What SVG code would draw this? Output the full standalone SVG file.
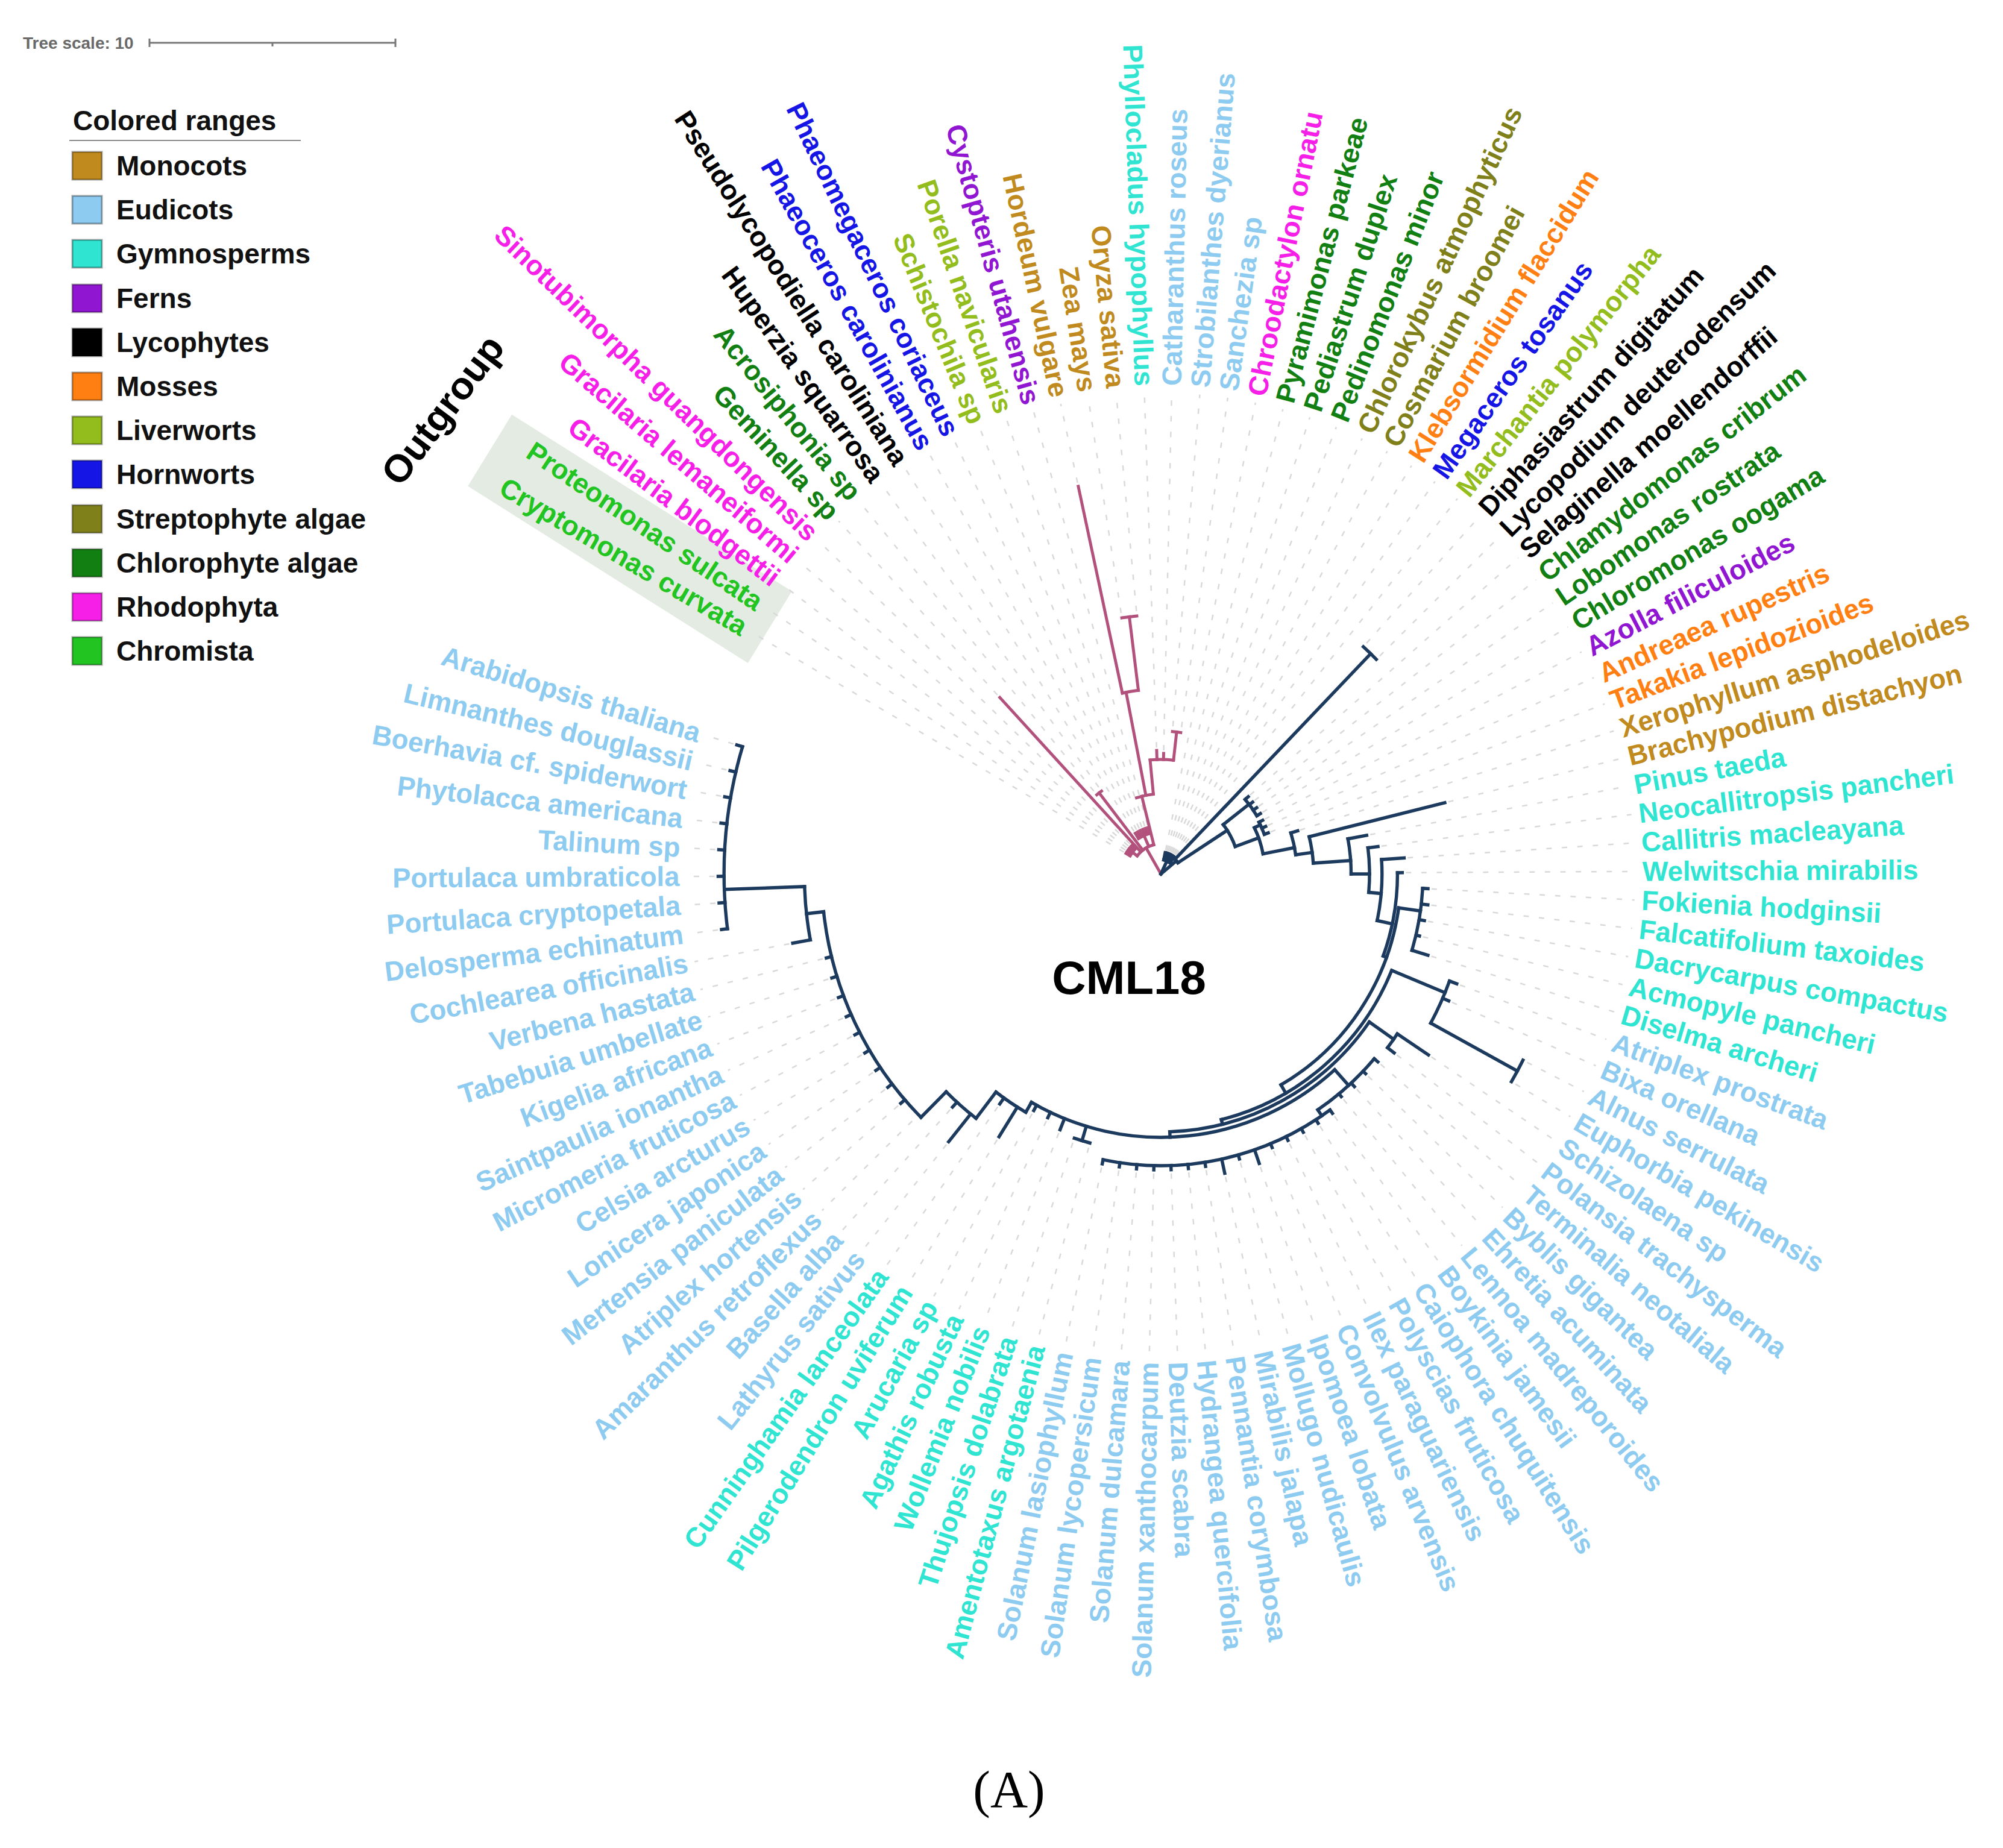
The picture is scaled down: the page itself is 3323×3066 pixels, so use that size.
<svg xmlns="http://www.w3.org/2000/svg" width="3323" height="3066" viewBox="0 0 3323 3066">
<style>
.mo{fill:#c08a1e}.eu{fill:#8ecbf0}.gy{fill:#2fe5d2}.fe{fill:#9116d2}.ly{fill:#000}.ms{fill:#ff7f12}.lv{fill:#93bd1c}.hw{fill:#1515e6}.st{fill:#80801a}.ch{fill:#127f12}.rh{fill:#f51fe8}.cr{fill:#22c422}
.l{text-anchor:end}
.lg rect{stroke:#000;stroke-opacity:.35;stroke-width:3}
.lg text{font-family:"Liberation Sans",Arial,sans-serif;font-weight:bold;font-size:46px;fill:#111}
</style>
<rect width="3323" height="3066" fill="#fff"/>
<g id="legend" class="lg">
<text x="38" y="81" style="font-size:28px;fill:#6a6a6a">Tree scale: 10</text>
<g stroke="#777" stroke-width="3" fill="none"><line x1="248" y1="71" x2="656" y2="71"/><line x1="248" y1="64" x2="248" y2="78"/><line x1="452" y1="71" x2="452" y2="77"/><line x1="656" y1="64" x2="656" y2="78"/></g>
<text x="121" y="216">Colored ranges</text>
<line x1="115" y1="233" x2="499" y2="233" stroke="#8a8a8a" stroke-width="2"/>
<rect class="mo" x="120" y="252" width="49" height="46"/><text x="193" y="291">Monocots</text>
<rect class="eu" x="120" y="325" width="49" height="46"/><text x="193" y="364">Eudicots</text>
<rect class="gy" x="120" y="398" width="49" height="46"/><text x="193" y="437">Gymnosperms</text>
<rect class="fe" x="120" y="472" width="49" height="46"/><text x="193" y="511">Ferns</text>
<rect class="ly" x="120" y="545" width="49" height="46"/><text x="193" y="584">Lycophytes</text>
<rect class="ms" x="120" y="618" width="49" height="46"/><text x="193" y="657">Mosses</text>
<rect class="lv" x="120" y="691" width="49" height="46"/><text x="193" y="730">Liverworts</text>
<rect class="hw" x="120" y="764" width="49" height="46"/><text x="193" y="803">Hornworts</text>
<rect class="st" x="120" y="838" width="49" height="46"/><text x="193" y="877">Streptophyte algae</text>
<rect class="ch" x="120" y="911" width="49" height="46"/><text x="193" y="950">Chlorophyte algae</text>
<rect class="rh" x="120" y="984" width="49" height="46"/><text x="193" y="1023">Rhodophyta</text>
<rect class="cr" x="120" y="1057" width="49" height="46"/><text x="193" y="1096">Chromista</text>
</g>
<rect id="outgroup-box" x="775" y="-70" width="555" height="140" fill="#e3ebe3" transform="translate(1926 1450) scale(.986 1) rotate(211.9)"/>
<text id="outgroup-label" transform="translate(734 680) rotate(-53)" text-anchor="middle" dy=".35em" font-family="'Liberation Sans',Arial,sans-serif" font-weight="bold" font-size="64" fill="#000">Outgroup</text>
<g id="leaders" transform="translate(1926 1450) scale(.986 1)" stroke="#d9d9d9" stroke-width="2.5" stroke-dasharray="9 17" fill="none">
<line x1="72" x2="798" transform="rotate(210.2)"/><line x1="72" x2="798" transform="rotate(213.6)"/><line x1="72" x2="798" transform="rotate(217)"/><line x1="72" x2="798" transform="rotate(220.4)"/><line x1="72" x2="798" transform="rotate(223.8)"/>
<line x1="405" x2="798" transform="rotate(227.2)"/><line x1="178" x2="798" transform="rotate(230.6)"/><line x1="178" x2="798" transform="rotate(234)"/>
<line x1="84" x2="798" transform="rotate(237.4)"/><line x1="84" x2="798" transform="rotate(240.8)"/><line x1="84" x2="798" transform="rotate(244.2)"/><line x1="84" x2="798" transform="rotate(247.6)"/><line x1="84" x2="798" transform="rotate(251)"/><line x1="84" x2="798" transform="rotate(254.4)"/>
<line x1="664" x2="798" transform="rotate(257.8)"/><line x1="438" x2="798" transform="rotate(261.2)"/><line x1="438" x2="798" transform="rotate(264.6)"/>
<line x1="210" x2="798" transform="rotate(268)"/><line x1="205" x2="798" transform="rotate(271.3)"/><line x1="246" x2="798" transform="rotate(274.7)"/><line x1="246" x2="798" transform="rotate(278.1)"/>
<line x1="40" x2="798" transform="rotate(281.5)"/><line x1="40" x2="798" transform="rotate(284.9)"/><line x1="40" x2="798" transform="rotate(288.3)"/><line x1="40" x2="798" transform="rotate(291.7)"/><line x1="40" x2="798" transform="rotate(295.1)"/><line x1="40" x2="798" transform="rotate(298.5)"/><line x1="40" x2="798" transform="rotate(301.9)"/><line x1="40" x2="798" transform="rotate(305.3)"/><line x1="40" x2="798" transform="rotate(308.7)"/>
<line x1="516" x2="798" transform="rotate(312.1)"/><line x1="516" x2="798" transform="rotate(315.5)"/>
<line x1="199" x2="798" transform="rotate(318.9)"/><line x1="199" x2="798" transform="rotate(322.3)"/><line x1="199" x2="798" transform="rotate(325.7)"/><line x1="199" x2="798" transform="rotate(329.1)"/>
<line x1="197" x2="798" transform="rotate(332.5)"/><line x1="197" x2="798" transform="rotate(335.9)"/><line x1="197" x2="798" transform="rotate(339.3)"/>
<line x1="245" x2="798" transform="rotate(342.7)"/><line x1="498" x2="798" transform="rotate(346.1)"/><line x1="358" x2="798" transform="rotate(349.5)"/><line x1="374" x2="798" transform="rotate(352.9)"/><line x1="416" x2="798" transform="rotate(356.3)"/><line x1="412" x2="798" transform="rotate(359.7)"/>
<line x1="456" x2="798" transform="rotate(3.1)"/><line x1="458" x2="798" transform="rotate(6.5)"/><line x1="456" x2="798" transform="rotate(9.9)"/><line x1="453" x2="798" transform="rotate(13.3)"/><line x1="475" x2="798" transform="rotate(16.7)"/>
<line x1="536" x2="798" transform="rotate(20.1)"/><line x1="534" x2="798" transform="rotate(23.5)"/><line x1="691" x2="798" transform="rotate(26.9)"/><line x1="691" x2="798" transform="rotate(30.3)"/>
<line x1="547" x2="798" transform="rotate(33.7)"/><line x1="498" x2="798" transform="rotate(37.1)"/>
<line x1="486" x2="798" transform="rotate(40.5)"/><line x1="484" x2="798" transform="rotate(43.9)"/><line x1="486" x2="798" transform="rotate(47.3)"/><line x1="484" x2="798" transform="rotate(50.6)"/>
<line x1="497" x2="798" transform="rotate(54)"/><line x1="497" x2="798" transform="rotate(57.4)"/><line x1="497" x2="798" transform="rotate(60.8)"/><line x1="497" x2="798" transform="rotate(64.2)"/><line x1="497" x2="798" transform="rotate(67.6)"/><line x1="514" x2="798" transform="rotate(71)"/><line x1="497" x2="798" transform="rotate(74.4)"/><line x1="514" x2="798" transform="rotate(77.8)"/><line x1="497" x2="798" transform="rotate(81.2)"/><line x1="497" x2="798" transform="rotate(84.6)"/><line x1="497" x2="798" transform="rotate(88)"/><line x1="497" x2="798" transform="rotate(91.4)"/><line x1="497" x2="798" transform="rotate(94.8)"/><line x1="497" x2="798" transform="rotate(98.2)"/><line x1="497" x2="798" transform="rotate(101.6)"/>
<line x1="470" x2="798" transform="rotate(105)"/><line x1="470" x2="798" transform="rotate(108.4)"/><line x1="463" x2="798" transform="rotate(111.8)"/><line x1="453" x2="798" transform="rotate(115.2)"/><line x1="453" x2="798" transform="rotate(118.6)"/><line x1="520" x2="798" transform="rotate(122)"/><line x1="474" x2="798" transform="rotate(125.4)"/>
<line x1="576" x2="798" transform="rotate(128.8)"/><line x1="528" x2="798" transform="rotate(132.2)"/>
<line x1="586" x2="798" transform="rotate(135.6)"/><line x1="586" x2="798" transform="rotate(139)"/><line x1="586" x2="798" transform="rotate(142.4)"/><line x1="586" x2="798" transform="rotate(145.8)"/><line x1="586" x2="798" transform="rotate(149.2)"/><line x1="586" x2="798" transform="rotate(152.6)"/><line x1="586" x2="798" transform="rotate(155.9)"/><line x1="586" x2="798" transform="rotate(159.3)"/><line x1="586" x2="798" transform="rotate(162.7)"/><line x1="586" x2="798" transform="rotate(166.1)"/>
<line x1="636" x2="798" transform="rotate(169.5)"/><line x1="751" x2="798" transform="rotate(172.9)"/>
<line x1="751" x2="798" transform="rotate(176.3)"/><line x1="751" x2="798" transform="rotate(179.7)"/><line x1="751" x2="798" transform="rotate(183.1)"/><line x1="751" x2="798" transform="rotate(186.5)"/><line x1="751" x2="798" transform="rotate(189.9)"/><line x1="751" x2="798" transform="rotate(193.3)"/><line x1="751" x2="798" transform="rotate(196.7)"/>
</g>
<g id="connectors" transform="translate(1926 1450) scale(.986 1)" fill="none" stroke-linecap="square">
<g id="clade-pink" stroke="#b3517d" stroke-width="5">
<line x2="50" transform="rotate(240)"/>
<circle r="50" pathLength="360" stroke-dasharray="39 720" transform="rotate(217)"/>
<line x1="50" x2="60" transform="rotate(217)"/>
<circle r="60" pathLength="360" stroke-dasharray="13.6 720" transform="rotate(210.2)"/>
<line x1="60" x2="68" transform="rotate(210.2)"/><line x1="60" x2="68" transform="rotate(213.6)"/><line x1="60" x2="68" transform="rotate(217)"/><line x1="60" x2="68" transform="rotate(220.4)"/><line x1="60" x2="68" transform="rotate(223.8)"/>
<line x1="50" x2="399" transform="rotate(227.2)"/>
<line x1="50" x2="170" transform="rotate(232.3)"/>
<circle r="170" pathLength="360" stroke-dasharray="3.4 720" transform="rotate(230.6)"/>
<line x1="50" x2="70" transform="rotate(245.9)"/>
<circle r="70" pathLength="360" stroke-dasharray="17 720" transform="rotate(237.4)"/>
<line x1="70" x2="80" transform="rotate(237.4)"/><line x1="70" x2="80" transform="rotate(240.8)"/><line x1="70" x2="80" transform="rotate(244.2)"/><line x1="70" x2="80" transform="rotate(247.6)"/><line x1="70" x2="80" transform="rotate(251)"/><line x1="70" x2="80" transform="rotate(254.4)"/>
<line x1="50" x2="133" transform="rotate(256)"/>
<circle r="133" pathLength="360" stroke-dasharray="12.5 720" transform="rotate(252)"/>
<line x1="133" x2="307" transform="rotate(259)"/>
<circle r="307" pathLength="360" stroke-dasharray="5.1 720" transform="rotate(257.8)"/>
<line x1="307" x2="658" transform="rotate(257.8)"/>
<line x1="307" x2="430" transform="rotate(262.9)"/>
<circle r="430" pathLength="360" stroke-dasharray="3.4 720" transform="rotate(261.2)"/>
<line x1="133" x2="190" transform="rotate(264.5)"/>
<circle r="190" pathLength="360" stroke-dasharray="11.9 720" transform="rotate(264.5)"/>
<line x1="190" x2="205" transform="rotate(268)"/>
<line x1="190" x2="200" transform="rotate(271.3)"/>
<line x1="190" x2="237" transform="rotate(276.4)"/>
<circle r="237" pathLength="360" stroke-dasharray="3.4 720" transform="rotate(274.7)"/>
</g>
<g id="clade-navy" stroke="#1c3a5e" stroke-width="5.5">
<line x2="24" transform="rotate(295)"/>
<circle r="24" pathLength="360" stroke-dasharray="27.2 720" transform="rotate(281.5)"/>
<line x1="24" x2="36" transform="rotate(281.5)"/><line x1="24" x2="36" transform="rotate(284.9)"/><line x1="24" x2="36" transform="rotate(288.3)"/><line x1="24" x2="36" transform="rotate(291.7)"/><line x1="24" x2="36" transform="rotate(295.1)"/><line x1="24" x2="36" transform="rotate(298.5)"/><line x1="24" x2="36" transform="rotate(301.9)"/><line x1="24" x2="36" transform="rotate(305.3)"/><line x1="24" x2="36" transform="rotate(308.7)"/>
<line x2="34" transform="rotate(320)"/>
<circle r="34" pathLength="360" stroke-dasharray="13 720" transform="rotate(314)"/>
<line x1="34" x2="508" transform="rotate(314)"/>
<circle r="508" pathLength="360" stroke-dasharray="3.4 720" transform="rotate(312.1)"/>
<line x1="34" x2="133" transform="rotate(327)"/>
<circle r="133" pathLength="360" stroke-dasharray="18 720" transform="rotate(322)"/>
<line x1="133" x2="188" transform="rotate(322)"/>
<circle r="188" pathLength="360" stroke-dasharray="10.2 720" transform="rotate(318.9)"/>
<line x1="188" x2="195" transform="rotate(318.9)"/><line x1="188" x2="195" transform="rotate(322.3)"/><line x1="188" x2="195" transform="rotate(325.7)"/><line x1="188" x2="195" transform="rotate(329.1)"/>
<line x1="133" x2="175" transform="rotate(340)"/>
<circle r="175" pathLength="360" stroke-dasharray="15 720" transform="rotate(334)"/>
<line x1="175" x2="186" transform="rotate(334)"/>
<circle r="186" pathLength="360" stroke-dasharray="6.8 720" transform="rotate(332.5)"/>
<line x1="186" x2="193" transform="rotate(332.5)"/><line x1="186" x2="193" transform="rotate(335.9)"/><line x1="186" x2="193" transform="rotate(339.3)"/>
<line x1="175" x2="229" transform="rotate(349)"/>
<circle r="229" pathLength="360" stroke-dasharray="9.3 720" transform="rotate(342.7)"/>
<line x1="229" x2="241" transform="rotate(342.7)"/>
<line x1="229" x2="257" transform="rotate(352)"/>
<circle r="257" pathLength="360" stroke-dasharray="9.9 720" transform="rotate(346.1)"/>
<line x1="257" x2="492" transform="rotate(346.1)"/>
<line x1="257" x2="320" transform="rotate(356)"/>
<circle r="320" pathLength="360" stroke-dasharray="10.5 720" transform="rotate(349.5)"/>
<line x1="320" x2="352" transform="rotate(349.5)"/>
<line x1="320" x2="351" transform="rotate(360)"/>
<circle r="351" pathLength="360" stroke-dasharray="12.1 720" transform="rotate(352.9)"/>
<line x1="351" x2="368" transform="rotate(352.9)"/>
<line x1="351" x2="372" transform="rotate(5)"/>
<circle r="372" pathLength="360" stroke-dasharray="15.7 720" transform="rotate(356.3)"/>
<line x1="372" x2="410" transform="rotate(356.3)"/>
<line x1="372" x2="398" transform="rotate(12)"/>
<circle r="398" pathLength="360" stroke-dasharray="20.3 720" transform="rotate(359.7)"/>
<line x1="398" x2="406" transform="rotate(359.7)"/>
<line x1="398" x2="404" transform="rotate(20)"/>
<circle r="404" pathLength="360" stroke-dasharray="52 720" transform="rotate(8)"/>
<line x1="404" x2="441" transform="rotate(8)"/>
<circle r="441" pathLength="360" stroke-dasharray="13.6 720" transform="rotate(3.1)"/>
<line x1="441" x2="450" transform="rotate(3.1)"/><line x1="441" x2="452" transform="rotate(6.5)"/><line x1="441" x2="450" transform="rotate(9.9)"/><line x1="441" x2="447" transform="rotate(13.3)"/><line x1="441" x2="469" transform="rotate(16.7)"/>
<line x1="404" x2="420" transform="rotate(60)"/>
<circle r="420" pathLength="360" stroke-dasharray="53.6 720" transform="rotate(22.4)"/>
<line x1="420" x2="517" transform="rotate(22.4)"/>
<circle r="517" pathLength="360" stroke-dasharray="8.5 720" transform="rotate(20.1)"/>
<line x1="517" x2="530" transform="rotate(20.1)"/>
<line x1="517" x2="528" transform="rotate(23.5)"/>
<line x1="517" x2="683" transform="rotate(28.6)"/>
<circle r="683" pathLength="360" stroke-dasharray="3.4 720" transform="rotate(26.9)"/>
<line x1="420" x2="428" transform="rotate(76)"/>
<circle r="428" pathLength="360" stroke-dasharray="53 720" transform="rotate(35)"/>
<line x1="428" x2="478" transform="rotate(35)"/>
<circle r="478" pathLength="360" stroke-dasharray="3.4 720" transform="rotate(33.7)"/>
<line x1="478" x2="541" transform="rotate(33.7)"/>
<line x1="478" x2="492" transform="rotate(37.1)"/>
<line x1="428" x2="437" transform="rotate(88)"/>
<circle r="437" pathLength="360" stroke-dasharray="71.9 720" transform="rotate(48)"/>
<line x1="437" x2="472" transform="rotate(48)"/>
<circle r="472" pathLength="360" stroke-dasharray="15.5 720" transform="rotate(40.5)"/>
<line x1="472" x2="480" transform="rotate(40.5)"/><line x1="472" x2="478" transform="rotate(43.9)"/><line x1="472" x2="480" transform="rotate(47.3)"/><line x1="472" x2="478" transform="rotate(50.6)"/>
<line x1="472" x2="484" transform="rotate(56)"/>
<circle r="484" pathLength="360" stroke-dasharray="47.6 720" transform="rotate(54)"/>
<line x1="484" x2="491" transform="rotate(54)"/><line x1="484" x2="491" transform="rotate(57.4)"/><line x1="484" x2="491" transform="rotate(60.8)"/><line x1="484" x2="491" transform="rotate(64.2)"/><line x1="484" x2="491" transform="rotate(67.6)"/><line x1="484" x2="508" transform="rotate(71)"/><line x1="484" x2="491" transform="rotate(74.4)"/><line x1="484" x2="508" transform="rotate(77.8)"/><line x1="484" x2="491" transform="rotate(81.2)"/><line x1="484" x2="491" transform="rotate(84.6)"/><line x1="484" x2="491" transform="rotate(88)"/><line x1="484" x2="491" transform="rotate(91.4)"/><line x1="484" x2="491" transform="rotate(94.8)"/><line x1="484" x2="491" transform="rotate(98.2)"/><line x1="484" x2="491" transform="rotate(101.6)"/>
<line x1="437" x2="462" transform="rotate(106.7)"/>
<circle r="462" pathLength="360" stroke-dasharray="3.4 720" transform="rotate(105)"/>
<line x1="437" x2="457" transform="rotate(111.8)"/>
<line x1="437" x2="447" transform="rotate(115.2)"/>
<line x1="437" x2="447" transform="rotate(118.6)"/>
<line x1="437" x2="456" transform="rotate(119.9)"/>
<circle r="456" pathLength="360" stroke-dasharray="7.6 720" transform="rotate(119.9)"/>
<line x1="456" x2="514" transform="rotate(122)"/>
<line x1="456" x2="468" transform="rotate(125.4)"/>
<line x1="456" x2="511" transform="rotate(127.5)"/>
<circle r="511" pathLength="360" stroke-dasharray="7.5 720" transform="rotate(127.5)"/>
<line x1="511" x2="570" transform="rotate(128.8)"/>
<line x1="511" x2="522" transform="rotate(132.2)"/>
<line x1="511" x2="571" transform="rotate(135)"/>
<circle r="571" pathLength="360" stroke-dasharray="38.7 720" transform="rotate(135)"/>
<line x1="571" x2="580" transform="rotate(139)"/><line x1="571" x2="580" transform="rotate(142.4)"/><line x1="571" x2="580" transform="rotate(145.8)"/><line x1="571" x2="580" transform="rotate(149.2)"/><line x1="571" x2="580" transform="rotate(152.6)"/><line x1="571" x2="580" transform="rotate(155.9)"/><line x1="571" x2="580" transform="rotate(159.3)"/><line x1="571" x2="580" transform="rotate(162.7)"/><line x1="571" x2="580" transform="rotate(166.1)"/>
<line x1="571" x2="600" transform="rotate(173.7)"/>
<circle r="600" pathLength="360" stroke-dasharray="8.5 720" transform="rotate(169.5)"/>
<line x1="600" x2="630" transform="rotate(169.5)"/>
<line x1="600" x2="735" transform="rotate(178)"/>
<circle r="735" pathLength="360" stroke-dasharray="23.8 720" transform="rotate(172.9)"/>
<line x1="735" x2="745" transform="rotate(172.9)"/><line x1="735" x2="745" transform="rotate(176.3)"/><line x1="735" x2="745" transform="rotate(179.7)"/><line x1="735" x2="745" transform="rotate(183.1)"/><line x1="735" x2="745" transform="rotate(186.5)"/><line x1="735" x2="745" transform="rotate(189.9)"/><line x1="735" x2="745" transform="rotate(193.3)"/><line x1="735" x2="745" transform="rotate(196.7)"/>
</g>
</g>
<g id="leaf-labels" transform="translate(1926 1450) scale(.986 1)" font-family="'Liberation Sans',Arial,sans-serif" font-weight="bold" font-size="46">
<text class="cr l" transform="rotate(210.2) translate(810) rotate(180)" dy=".34em">Cryptomonas curvata</text>
<text class="cr l" transform="rotate(213.6) translate(810) rotate(180)" dy=".34em">Proteomonas sulcata</text>
<text class="rh l" transform="rotate(217) translate(810) rotate(180)" dy=".34em">Gracilaria blodgettii</text>
<text class="rh l" transform="rotate(220.4) translate(810) rotate(180)" dy=".34em">Gracilaria lemaneiformi</text>
<text class="rh l" transform="rotate(223.8) translate(810) rotate(180)" dy=".34em">Sinotubimorpha guangdongensis</text>
<text class="ch l" transform="rotate(227.2) translate(810) rotate(180)" dy=".34em">Geminella sp</text>
<text class="ch l" transform="rotate(230.6) translate(810) rotate(180)" dy=".34em">Acrosiphonia sp</text>
<text class="ly l" transform="rotate(234) translate(810) rotate(180)" dy=".34em">Huperzia squarrosa</text>
<text class="ly l" transform="rotate(237.4) translate(810) rotate(180)" dy=".34em">Pseudolycopodiella caroliniana</text>
<text class="hw l" transform="rotate(240.8) translate(810) rotate(180)" dy=".34em">Phaeoceros carolinianus</text>
<text class="hw l" transform="rotate(244.2) translate(810) rotate(180)" dy=".34em">Phaeomegaceros coriaceus</text>
<text class="lv l" transform="rotate(247.6) translate(810) rotate(180)" dy=".34em">Schistochila sp</text>
<text class="lv l" transform="rotate(251) translate(810) rotate(180)" dy=".34em">Porella navicularis</text>
<text class="fe l" transform="rotate(254.4) translate(810) rotate(180)" dy=".34em">Cystopteris utahensis</text>
<text class="mo l" transform="rotate(257.8) translate(810) rotate(180)" dy=".34em">Hordeum vulgare</text>
<text class="mo l" transform="rotate(261.2) translate(810) rotate(180)" dy=".34em">Zea mays</text>
<text class="mo l" transform="rotate(264.6) translate(810) rotate(180)" dy=".34em">Oryza sativa</text>
<text class="gy l" transform="rotate(268) translate(810) rotate(180)" dy=".34em">Phyllocladus hypophyllus</text>
<text class="eu" transform="rotate(271.3) translate(810)" dy=".34em">Catharanthus roseus</text>
<text class="eu" transform="rotate(274.7) translate(810)" dy=".34em">Strobilanthes dyerianus</text>
<text class="eu" transform="rotate(278.1) translate(810)" dy=".34em">Sanchezia sp</text>
<text class="rh" transform="rotate(281.5) translate(810)" dy=".34em">Chroodactylon ornatu</text>
<text class="ch" transform="rotate(284.9) translate(810)" dy=".34em">Pyramimonas parkeae</text>
<text class="ch" transform="rotate(288.3) translate(810)" dy=".34em">Pediastrum duplex</text>
<text class="ch" transform="rotate(291.7) translate(810)" dy=".34em">Pedinomonas minor</text>
<text class="st" transform="rotate(295.1) translate(810)" dy=".34em">Chlorokybus atmophyticus</text>
<text class="st" transform="rotate(298.5) translate(810)" dy=".34em">Cosmarium broomei</text>
<text class="ms" transform="rotate(301.9) translate(810)" dy=".34em">Klebsormidium flaccidum</text>
<text class="hw" transform="rotate(305.3) translate(810)" dy=".34em">Megaceros tosanus</text>
<text class="lv" transform="rotate(308.7) translate(810)" dy=".34em">Marchantia polymorpha</text>
<text class="ly" transform="rotate(312.1) translate(810)" dy=".34em">Diphasiastrum digitatum</text>
<text class="ly" transform="rotate(315.5) translate(810)" dy=".34em">Lycopodium deuterodensum</text>
<text class="ly" transform="rotate(318.9) translate(810)" dy=".34em">Selaginella moellendorffii</text>
<text class="ch" transform="rotate(322.3) translate(810)" dy=".34em">Chlamydomonas cribrum</text>
<text class="ch" transform="rotate(325.7) translate(810)" dy=".34em">Lobomonas rostrata</text>
<text class="ch" transform="rotate(329.1) translate(810)" dy=".34em">Chloromonas oogama</text>
<text class="fe" transform="rotate(332.5) translate(810)" dy=".34em">Azolla filiculoides</text>
<text class="ms" transform="rotate(335.9) translate(810)" dy=".34em">Andreaea rupestris</text>
<text class="ms" transform="rotate(339.3) translate(810)" dy=".34em">Takakia lepidozioides</text>
<text class="mo" transform="rotate(342.7) translate(810)" dy=".34em">Xerophyllum asphodeloides</text>
<text class="mo" transform="rotate(346.1) translate(810)" dy=".34em">Brachypodium distachyon</text>
<text class="gy" transform="rotate(349.5) translate(810)" dy=".34em">Pinus taeda</text>
<text class="gy" transform="rotate(352.9) translate(810)" dy=".34em">Neocallitropsis pancheri</text>
<text class="gy" transform="rotate(356.3) translate(810)" dy=".34em">Callitris macleayana</text>
<text class="gy" transform="rotate(359.7) translate(810)" dy=".34em">Welwitschia mirabilis</text>
<text class="gy" transform="rotate(3.1) translate(810)" dy=".34em">Fokienia hodginsii</text>
<text class="gy" transform="rotate(6.5) translate(810)" dy=".34em">Falcatifolium taxoides</text>
<text class="gy" transform="rotate(9.9) translate(810)" dy=".34em">Dacrycarpus compactus</text>
<text class="gy" transform="rotate(13.3) translate(810)" dy=".34em">Acmopyle pancheri</text>
<text class="gy" transform="rotate(16.7) translate(810)" dy=".34em">Diselma archeri</text>
<text class="eu" transform="rotate(20.1) translate(810)" dy=".34em">Atriplex prostrata</text>
<text class="eu" transform="rotate(23.5) translate(810)" dy=".34em">Bixa orellana</text>
<text class="eu" transform="rotate(26.9) translate(810)" dy=".34em">Alnus serrulata</text>
<text class="eu" transform="rotate(30.3) translate(810)" dy=".34em">Euphorbia pekinensis</text>
<text class="eu" transform="rotate(33.7) translate(810)" dy=".34em">Schizolaena sp</text>
<text class="eu" transform="rotate(37.1) translate(810)" dy=".34em">Polansia trachysperma</text>
<text class="eu" transform="rotate(40.5) translate(810)" dy=".34em">Terminalia neotaliala</text>
<text class="eu" transform="rotate(43.9) translate(810)" dy=".34em">Byblis gigantea</text>
<text class="eu" transform="rotate(47.3) translate(810)" dy=".34em">Ehretia acuminata</text>
<text class="eu" transform="rotate(50.6) translate(810)" dy=".34em">Lennoa madreporoides</text>
<text class="eu" transform="rotate(54) translate(810)" dy=".34em">Boykinia jamesii</text>
<text class="eu" transform="rotate(57.4) translate(810)" dy=".34em">Caiophora chuquitensis</text>
<text class="eu" transform="rotate(60.8) translate(810)" dy=".34em">Polyscias fruticosa</text>
<text class="eu" transform="rotate(64.2) translate(810)" dy=".34em">Ilex paraguariensis</text>
<text class="eu" transform="rotate(67.6) translate(810)" dy=".34em">Convolvulus arvensis</text>
<text class="eu" transform="rotate(71) translate(810)" dy=".34em">Ipomoea lobata</text>
<text class="eu" transform="rotate(74.4) translate(810)" dy=".34em">Mollugo nudicaulis</text>
<text class="eu" transform="rotate(77.8) translate(810)" dy=".34em">Mirabilis jalapa</text>
<text class="eu" transform="rotate(81.2) translate(810)" dy=".34em">Pennantia corymbosa</text>
<text class="eu" transform="rotate(84.6) translate(810)" dy=".34em">Hydrangea quercifolia</text>
<text class="eu" transform="rotate(88) translate(810)" dy=".34em">Deutzia scabra</text>
<text class="eu l" transform="rotate(91.4) translate(810) rotate(180)" dy=".34em">Solanum xanthocarpum</text>
<text class="eu l" transform="rotate(94.8) translate(810) rotate(180)" dy=".34em">Solanum dulcamara</text>
<text class="eu l" transform="rotate(98.2) translate(810) rotate(180)" dy=".34em">Solanum lycopersicum</text>
<text class="eu l" transform="rotate(101.6) translate(810) rotate(180)" dy=".34em">Solanum lasiophyllum</text>
<text class="gy l" transform="rotate(105) translate(810) rotate(180)" dy=".34em">Amentotaxus argotaenia</text>
<text class="gy l" transform="rotate(108.4) translate(810) rotate(180)" dy=".34em">Thujopsis dolabrata</text>
<text class="gy l" transform="rotate(111.8) translate(810) rotate(180)" dy=".34em">Wollemia nobilis</text>
<text class="gy l" transform="rotate(115.2) translate(810) rotate(180)" dy=".34em">Agathis robusta</text>
<text class="gy l" transform="rotate(118.6) translate(810) rotate(180)" dy=".34em">Arucaria sp</text>
<text class="gy l" transform="rotate(122) translate(810) rotate(180)" dy=".34em">Pilgerodendron uviferum</text>
<text class="gy l" transform="rotate(125.4) translate(810) rotate(180)" dy=".34em">Cunninghamia lanceolata</text>
<text class="eu l" transform="rotate(128.8) translate(810) rotate(180)" dy=".34em">Lathyrus sativus</text>
<text class="eu l" transform="rotate(132.2) translate(810) rotate(180)" dy=".34em">Basella alba</text>
<text class="eu l" transform="rotate(135.6) translate(810) rotate(180)" dy=".34em">Amaranthus retroflexus</text>
<text class="eu l" transform="rotate(139) translate(810) rotate(180)" dy=".34em">Atriplex hortensis</text>
<text class="eu l" transform="rotate(142.4) translate(810) rotate(180)" dy=".34em">Mertensia paniculata</text>
<text class="eu l" transform="rotate(145.8) translate(810) rotate(180)" dy=".34em">Lonicera japonica</text>
<text class="eu l" transform="rotate(149.2) translate(810) rotate(180)" dy=".34em">Celsia arcturus</text>
<text class="eu l" transform="rotate(152.6) translate(810) rotate(180)" dy=".34em">Micromeria fruticosa</text>
<text class="eu l" transform="rotate(155.9) translate(810) rotate(180)" dy=".34em">Saintpaulia ionantha</text>
<text class="eu l" transform="rotate(159.3) translate(810) rotate(180)" dy=".34em">Kigelia africana</text>
<text class="eu l" transform="rotate(162.7) translate(810) rotate(180)" dy=".34em">Tabebuia umbellate</text>
<text class="eu l" transform="rotate(166.1) translate(810) rotate(180)" dy=".34em">Verbena hastata</text>
<text class="eu l" transform="rotate(169.5) translate(810) rotate(180)" dy=".34em">Cochlearea officinalis</text>
<text class="eu l" transform="rotate(172.9) translate(810) rotate(180)" dy=".34em">Delosperma echinatum</text>
<text class="eu l" transform="rotate(176.3) translate(810) rotate(180)" dy=".34em">Portulaca cryptopetala</text>
<text class="eu l" transform="rotate(179.7) translate(810) rotate(180)" dy=".34em">Portulaca umbraticola</text>
<text class="eu l" transform="rotate(183.1) translate(810) rotate(180)" dy=".34em">Talinum sp</text>
<text class="eu l" transform="rotate(186.5) translate(810) rotate(180)" dy=".34em">Phytolacca americana</text>
<text class="eu l" transform="rotate(189.9) translate(810) rotate(180)" dy=".34em">Boerhavia cf. spiderwort</text>
<text class="eu l" transform="rotate(193.3) translate(810) rotate(180)" dy=".34em">Limnanthes douglassii</text>
<text class="eu l" transform="rotate(196.7) translate(810) rotate(180)" dy=".34em">Arabidopsis thaliana</text>
</g>
<text id="title" x="1873" y="1649" text-anchor="middle" font-family="'Liberation Sans',Arial,sans-serif" font-weight="bold" font-size="78" fill="#000">CML18</text>
<text id="panel" x="1674" y="2998" text-anchor="middle" font-family="'Liberation Serif','Times New Roman',serif" font-size="86" fill="#000">(A)</text>
</svg>
